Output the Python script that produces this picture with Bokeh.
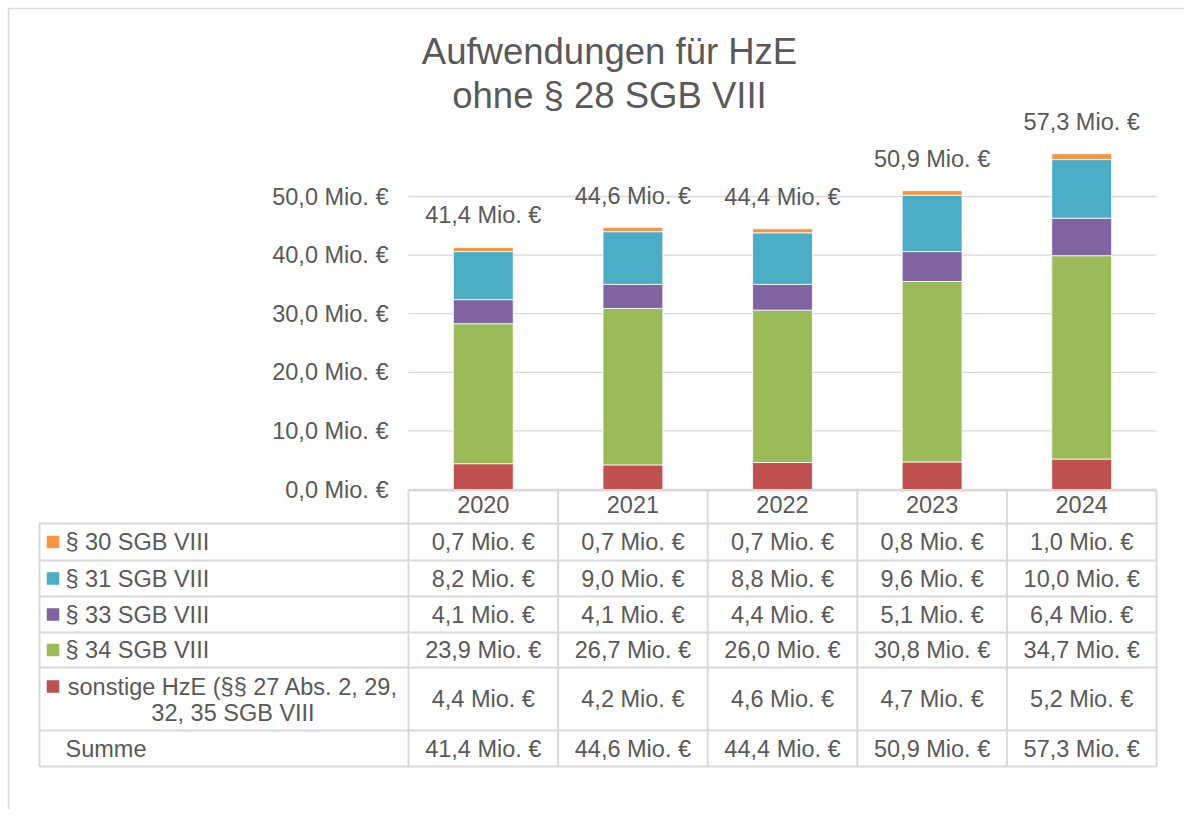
from bokeh.plotting import figure
from bokeh.models import ColumnDataSource, Range1d, FixedTicker
from bokeh.core.properties import value
from bokeh.embed import file_html
from bokeh.resources import INLINE

# ---------------- data ----------------
years = ["2020", "2021", "2022", "2023", "2024"]
row_labels = ["§ 30 SGB VIII", "§ 31 SGB VIII", "§ 33 SGB VIII", "§ 34 SGB VIII",
              "sonstige HzE (§§ 27 Abs. 2, 29,\n32, 35 SGB VIII", "Summe"]
s30 = [0.7, 0.7, 0.7, 0.8, 1.0]
s31 = [8.2, 9.0, 8.8, 9.6, 10.0]
s33 = [4.1, 4.1, 4.4, 5.1, 6.4]
s34 = [23.9, 26.7, 26.0, 30.8, 34.7]
sonstige = [4.4, 4.2, 4.6, 4.7, 5.2]
summe = [41.4, 44.6, 44.4, 50.9, 57.3]
y_ticks = [0, 10, 20, 30, 40, 50]
series_colors = ["#F79646", "#4BACC6", "#8064A2", "#9BBB59", "#C0504D"]
title_lines = ["Aufwendungen für HzE", "ohne § 28 SGB VIII"]

# ---------------- layout (canvas pixels) ----------------
W, H = 1184, 809
AXIS_X = 408.0        # x of category 0 edge
CAT_PX = 149.6        # width of one category
ZERO_Y = 489.0        # y of value 0
UNIT_PX = 5.86        # pixels per 1 Mio.
TEXT = "#595959"
GRID = "#D9D9D9"
FONT = value("Liberation Sans")
FS = "23.5px"

xs = -AXIS_X / CAT_PX
xe = (W - AXIS_X) / CAT_PX
ys = -(H - ZERO_Y) / UNIT_PX
ye = ZERO_Y / UNIT_PX


def fmt(v):
    return f"{v:.1f}".replace(".", ",") + " Mio. €"


p = figure(width=W, height=H, x_range=Range1d(xs, xe), y_range=Range1d(ys, ye),
           output_backend="svg", toolbar_location=None, tools="",
           min_border=0, min_border_left=0, min_border_right=0,
           min_border_top=0, min_border_bottom=0)
p.extra_x_ranges = {"px": Range1d(0, W)}
p.extra_y_ranges = {"px": Range1d(H, 0)}
p.outline_line_color = None
p.xgrid.visible = False
p.ygrid.visible = False
p.background_fill_color = "white"
p.border_fill_color = "white"

# outer chart border (left and top, as visible in the reference)
p.segment(x0=[8, 8], y0=[8, 8], x1=[8, W], y1=[H, 8],
          line_color=GRID, line_width=1.5, x_range_name="px", y_range_name="px")

n = len(years)
xc = [i + 0.5 for i in range(n)]

# gridlines
p.segment(x0=[0] * len(y_ticks), x1=[n] * len(y_ticks), y0=y_ticks, y1=y_ticks,
          line_color=GRID, line_width=1.3)

# y axis
ya = p.yaxis[0]
ya.fixed_location = 0
ya.ticker = FixedTicker(ticks=y_ticks)
ya.major_label_overrides = {t: fmt(t) for t in y_ticks}
ya.axis_line_color = None
ya.major_tick_line_color = None
ya.minor_tick_line_color = None
ya.major_tick_out = 0
ya.major_tick_in = 0
ya.major_label_standoff = 20
ya.major_label_text_font = "Liberation Sans"
ya.major_label_text_font_size = FS
ya.major_label_text_color = TEXT

# x axis (years in the table header)
xa = p.xaxis[0]
xa.fixed_location = 0
xa.ticker = FixedTicker(ticks=xc)
xa.major_label_overrides = {x: y for x, y in zip(xc, years)}
xa.axis_line_color = None
xa.major_tick_line_color = None
xa.minor_tick_line_color = None
xa.major_tick_out = 0
xa.major_tick_in = 0
xa.major_label_standoff = 6
xa.major_label_text_font = "Liberation Sans"
xa.major_label_text_font_size = FS
xa.major_label_text_color = TEXT

# stacked bars
src = ColumnDataSource(dict(x=xc, sonstige=sonstige, s34=s34, s33=s33, s31=s31, s30=s30))
p.vbar_stack(["sonstige", "s34", "s33", "s31", "s30"], x="x", width=0.4, source=src,
             fill_color=series_colors[::-1], line_color="white", line_width=0.8)

# totals above bars
p.text(x=xc, y=summe, text=[fmt(v) for v in summe], y_offset=-32,
       text_align="center", text_baseline="middle", text_font=FONT,
       text_font_size=FS, text_color=TEXT)

# title
p.text(x=[609, 609], y=[51, 95], text=title_lines, text_align="center", text_baseline="middle",
       text_font=FONT, text_font_size="36.5px", text_color=TEXT,
       x_range_name="px", y_range_name="px")

# ---------------- data table ----------------
HEAD_TOP = 490
row_edges = [523, 560, 596, 632, 667, 730, 766]
LEFT_PX = 39
left_x = (LEFT_PX - AXIS_X) / CAT_PX
TL = "#D9D9D9"

# horizontal lines
p.segment(x0=[0], x1=[n], y0=[HEAD_TOP], y1=[HEAD_TOP], line_color=TL, line_width=2,
          y_range_name="px")
p.segment(x0=[left_x] * len(row_edges), x1=[n] * len(row_edges), y0=row_edges, y1=row_edges,
          line_color=TL, line_width=2, y_range_name="px")
# vertical lines
p.segment(x0=list(range(n + 1)), x1=list(range(n + 1)), y0=[HEAD_TOP] * (n + 1),
          y1=[row_edges[-1]] * (n + 1), line_color=TL, line_width=2, y_range_name="px")
p.segment(x0=[left_x], x1=[left_x], y0=[row_edges[0]], y1=[row_edges[-1]],
          line_color=TL, line_width=2, y_range_name="px")

row_centers = [(a + b) / 2 for a, b in zip(row_edges[:-1], row_edges[1:])]
table_rows = [s30, s31, s33, s34, sonstige, summe]
tx, ty, tt = [], [], []
for r, vals in enumerate(table_rows):
    for c, v in enumerate(vals):
        tx.append(xc[c])
        ty.append(row_centers[r])
        tt.append(fmt(v))
p.text(x=tx, y=ty, text=tt, text_align="center", text_baseline="middle",
       text_font=FONT, text_font_size=FS, text_color=TEXT, y_range_name="px")

# row labels with legend keys
KEY_X = 52.5
LABEL_X = 65
WRAP_CX = 232.5
lx, ly, lt = [], [], []
cx2, cy2, ct2 = [], [], []
key_y = []
for r, lab in enumerate(row_labels):
    parts = lab.split("\n")
    if len(parts) == 1:
        lx.append(LABEL_X)
        ly.append(row_centers[r])
        lt.append(lab)
        key_y.append(row_centers[r])
    else:
        top = row_edges[r]
        for k, part in enumerate(parts):
            cx2.append(WRAP_CX)
            cy2.append(top + 19 + 26 * k)
            ct2.append(part)
        key_y.append(top + 19)
p.text(x=lx, y=ly, text=lt, text_align="left", text_baseline="middle",
       text_font=FONT, text_font_size=FS, text_color=TEXT,
       x_range_name="px", y_range_name="px")
p.text(x=cx2, y=cy2, text=ct2, text_align="center", text_baseline="middle",
       text_font=FONT, text_font_size=FS, text_color=TEXT,
       x_range_name="px", y_range_name="px")
p.scatter(x=[KEY_X] * len(series_colors), y=key_y[:len(series_colors)], marker="square",
          size=12.5, fill_color=series_colors, line_color=None,
          x_range_name="px", y_range_name="px")

open("out.html", "w").write(file_html(p, INLINE))
